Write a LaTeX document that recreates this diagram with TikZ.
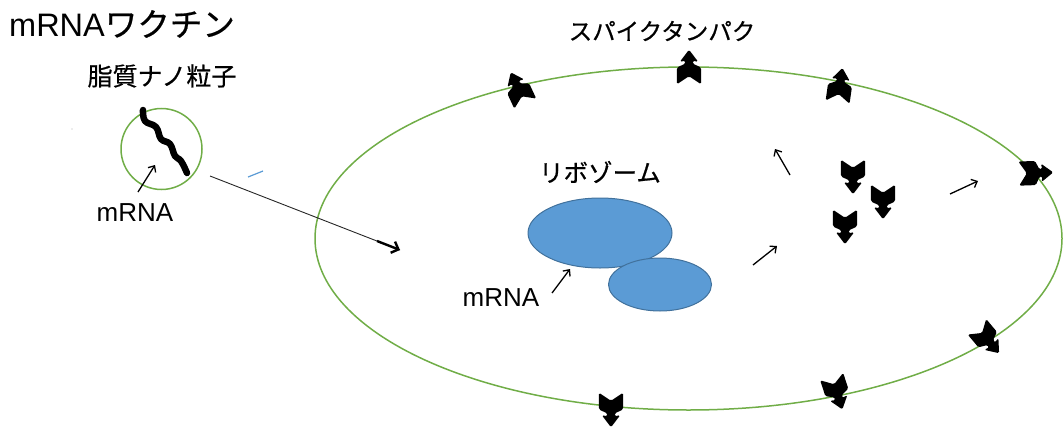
\documentclass[tikz,border=0pt]{standalone}
\usepackage{fontspec}
\setmainfont{Noto Sans CJK JP}[FakeBold=0.6]
\newfontfamily\latinsans{Liberation Sans}
\usetikzlibrary{shapes.geometric,arrows.meta}
\definecolor{membrane}{HTML}{70AD47}
\definecolor{ribofill}{HTML}{5B9BD5}
\definecolor{riboedge}{HTML}{41719C}
\begin{document}
\begin{tikzpicture}[x=1pt,y=-1pt,
  lbl/.style={inner sep=0pt},
  thinarrow/.style={line width=1.3pt,-{Straight Barb[length=5pt,width=9pt]}},
  ribo/.style={ellipse,draw=riboedge,fill=ribofill,line width=1pt,inner sep=0pt},
  spikeprot/.pic={
    \fill[black,rounded corners=1.5pt,scale=1.15]
      (0,-15) -- (8,-4.5) -- (3.2,-5.5) -- (3.2,-3) -- (10.5,0.5) -- (10.5,15)
      -- (0,8) -- (-10.5,15) -- (-10.5,0.5) -- (-3.2,-3) -- (-3.2,-5.5)
      -- (-8,-4.5) -- cycle;
  }]
\useasboundingbox (0,0) rectangle (1064,428);

% titles and labels
\node[lbl,anchor=west,font=\fontsize{32.5}{33}\selectfont] (title) at (9,24) {{\latinsans mRNA}ワクチン};
\node[lbl,font=\fontsize{25}{25}\selectfont] (lnplabel) at (162,76) {脂質ナノ粒子};
\node[lbl,font=\fontsize{23.5}{24}\selectfont] (spikelabel) at (662,31) {スパイクタンパク};
\node[lbl,font=\fontsize{24.5}{25}\selectfont] (ribolabel) at (600,172) {リボゾーム};
\node[lbl,font=\latinsans\fontsize{26}{26}\selectfont] (mrnaA) at (135,213) {mRNA};
\node[lbl,font=\latinsans\fontsize{26}{26}\selectfont] (mrnaB) at (501,298) {mRNA};

% cell membrane
\node[ellipse,draw=membrane,line width=1.5pt,minimum width=747pt,minimum height=343pt,inner sep=0pt] (cell) at (688.5,238.5) {};

% lipid nanoparticle with its mRNA strand
\node[circle,draw=membrane,line width=1.5pt,minimum size=81pt,inner sep=0pt] (lnp) at (161.5,149) {};
\draw[line width=6.5pt,line cap=round,line join=round]
  plot[smooth,tension=0.7] coordinates {(143,110) (145,121) (156,127) (161,139) (170,144) (175,156) (181,161) (187,173)};

% ribosome
\node[ribo,minimum width=144pt,minimum height=70pt] (riboL) at (600,233) {};
\node[ribo,minimum width=103pt,minimum height=53pt] (riboS) at (660,284.5) {};

% spike proteins on the membrane
\pic[rotate=25] at (518,88) {spikeprot};
\pic at (689,67) {spikeprot};
\pic[rotate=-8] at (840,85) {spikeprot};
\pic[rotate=-88] at (1036,173) {spikeprot};
\pic[rotate=-140] at (988,340) {spikeprot};
\pic[rotate=-162] at (837,393) {spikeprot};
\pic[rotate=180] at (611,410) {spikeprot};
% spike proteins inside the cell
\pic[rotate=180] at (853,177) {spikeprot};
\pic[rotate=180] at (883,202) {spikeprot};
\pic[rotate=180] at (845,227) {spikeprot};

% uptake arrow
\coordinate (lnpexit) at (210,176);
\coordinate (entry) at (400,250);
\coordinate (entrybase) at (377,241);
\draw[line width=0.9pt,black!85] (lnpexit) -- (entry);
\draw[line width=2.4pt,-{Straight Barb[length=6pt,width=12pt]}] (entrybase) -- (entry);

% label pointers
\coordinate (mrnaAtail) at (138,192);
\coordinate (mrnaAtip) at (155,165);
\draw[thinarrow] (mrnaAtail) -- (mrnaAtip);
\coordinate (mrnaBtail) at (552,293);
\coordinate (mrnaBtip) at (570,269);
\draw[thinarrow] (mrnaBtail) -- (mrnaBtip);

% transport arrows
\coordinate (tA1) at (753,265); \coordinate (tA2) at (777,246);
\draw[thinarrow] (tA1) -- (tA2);
\coordinate (tB1) at (790,175); \coordinate (tB2) at (775,149);
\draw[thinarrow] (tB1) -- (tB2);
\coordinate (tC1) at (950,194); \coordinate (tC2) at (978,181);
\draw[thinarrow] (tC1) -- (tC2);

% small stray marks
\draw[ribofill,line width=1.2pt] (248,177) -- (263,171);
\fill[gray!60] (72,129) circle (0.7pt);
\end{tikzpicture}
\end{document}
